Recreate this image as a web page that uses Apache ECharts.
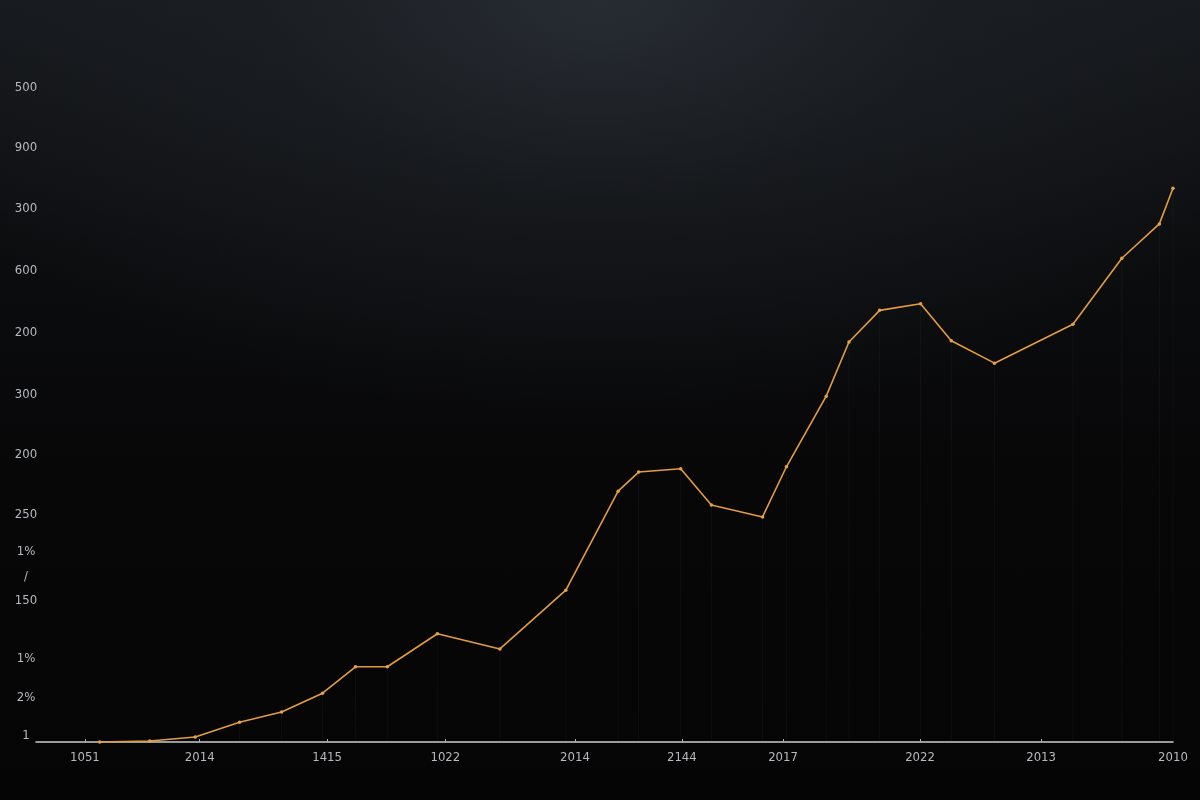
<!DOCTYPE html>
<html>
<head>
<meta charset="utf-8">
<style>
  html, body { margin: 0; padding: 0; }
  body {
    width: 1200px; height: 800px;
    background:
      radial-gradient(ellipse 760px 420px at 50% 0%, rgba(40,45,52,0.95) 0%, rgba(30,34,39,0.55) 45%, rgba(20,22,25,0) 100%),
      linear-gradient(to bottom, #16191d 0%, #0c0d0f 30%, #070708 60%, #050505 100%);
  }
  #chart { width: 1200px; height: 800px; }
</style>
<script src="https://cdn.jsdelivr.net/npm/echarts@6/dist/echarts.min.js"></script>
</head>
<body>
<div id="chart"></div>
<script>
// Series values (x: position along the axis 0..100, y: value 0..1000)
const xValues = [5.6, 10.0, 14.0, 17.9, 21.6, 25.2, 28.1, 30.9, 35.3, 40.8, 46.6, 51.2, 53.0, 56.7, 59.4, 63.9, 66.0, 69.5, 71.5, 74.2, 77.8, 80.5, 84.3, 91.2, 95.5, 98.8, 100];
const yValues = [0, 1.5, 7.6, 30, 45.5, 74, 114, 114, 164, 141, 230, 380, 409, 414, 359, 341, 417, 524, 606, 654, 664, 608, 574, 633, 733, 785, 839];

// Tick labels (as printed on the reference) and the values where they sit
const xTickValues = [4.3, 14.4, 25.6, 36.0, 47.4, 56.8, 65.7, 77.75, 88.4];
const xTickLabels = ['1051', '2014', '1415', '1022', '2014', '2144', '2017', '2022', '2013'];
const xEndValue = 100;
const xEndLabel = '2010';

const yTickValues = [991, 900, 808, 714, 620, 527, 435, 345, 288, 250, 214, 126, 67, 9];
const yTickLabels = ['500', '900', '300', '600', '200', '300', '200', '250', '1%', '/', '150', '1%', '2%', '1'];

const points = xValues.map((x, i) => [x, yValues[i]]);
const xLabelValues = xTickValues.concat([xEndValue]);
const xLabelTexts = xTickLabels.concat([xEndLabel]);

const labelFont = "'Liberation Sans Narrow', 'DejaVu Sans Condensed', 'Roboto', sans-serif";

function nearestLabel(values, texts, v) {
  let best = 0, d = Infinity;
  values.forEach((t, i) => { const dd = Math.abs(t - v); if (dd < d) { d = dd; best = i; } });
  return texts[best];
}

const chart = echarts.init(document.getElementById('chart'), null, { renderer: 'canvas' });
chart.setOption({
  animation: false,
  backgroundColor: 'transparent',
  grid: { left: 36, right: 27, top: 82, bottom: 58, containLabel: false },
  xAxis: {
    type: 'value', min: 0, max: 100,
    splitLine: { show: false },
    axisLine: { show: true, lineStyle: { color: '#c9cbce', width: 1.6 } },
    axisTick: {
      show: true, length: 3, inside: true,
      customValues: xTickValues,
      lineStyle: { color: '#aeb1b5', width: 1 }
    },
    axisLabel: {
      show: true, margin: 9,
      customValues: xLabelValues,
      color: '#b6b9bd', fontSize: 13, fontFamily: labelFont,
      formatter: function (v) { return nearestLabel(xLabelValues, xLabelTexts, v); }
    }
  },
  yAxis: {
    type: 'value', min: 0, max: 1000,
    splitLine: { show: false },
    axisLine: { show: false },
    axisTick: { show: false },
    axisLabel: {
      show: true, margin: 10, align: 'center',
      customValues: yTickValues,
      color: '#b6b9bd', fontSize: 13, fontFamily: labelFont,
      formatter: function (v) { return nearestLabel(yTickValues, yTickLabels, v); }
    }
  },
  series: [
    {
      type: 'bar',
      data: points,
      barWidth: 1,
      silent: true,
      z: 1,
      itemStyle: { color: 'rgba(255,255,255,0.035)' }
    },
    {
      type: 'line',
      data: points,
      z: 3,
      symbol: 'circle',
      symbolSize: 3.5,
      showSymbol: true,
      lineStyle: { color: '#e49c3e', width: 1.6 },
      itemStyle: { color: '#e8a244' }
    }
  ]
});
</script>
</body>
</html>
